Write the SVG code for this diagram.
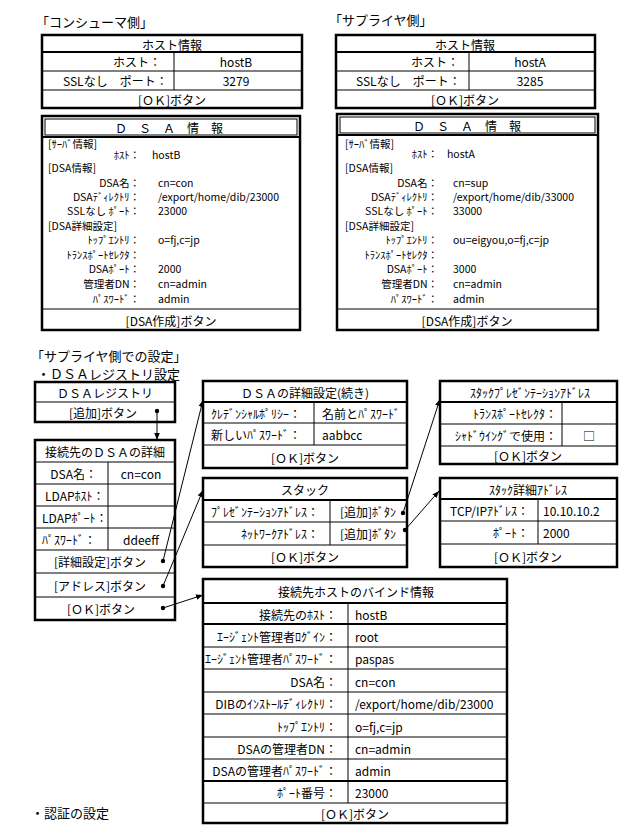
<svg xmlns="http://www.w3.org/2000/svg" width="630" height="840" viewBox="0 0 630 840">
<style>
text{font-family:"Noto Sans CJK JP","Noto Sans",sans-serif;font-size:12px;fill:#000;dominant-baseline:central}
.c{text-anchor:middle}
.e{text-anchor:end}
.h{font-size:13px}
.s{font-size:10.5px}
.box{fill:#fff;stroke:#000;stroke-width:2.5}
.ln{stroke:#000;stroke-width:1;fill:none}
.tk{stroke:#000;stroke-width:2;fill:none}
.ar{stroke:#000;stroke-width:1;fill:none;marker-end:url(#ah)}
.dot{fill:#000}
</style>
<defs>
<marker id="ah" viewBox="0 0 10 10" refX="10" refY="5" markerWidth="7" markerHeight="7" markerUnits="userSpaceOnUse" orient="auto">
<path d="M0,1 L10,5 L0,9 z" fill="#000"/>
</marker>
</defs>
<rect width="630" height="840" fill="#fff"/>

<text x="36" y="21" class="h">「コンシューマ側」</text>
<text x="329" y="19" class="h">「サプライヤ側」</text>
<text x="31" y="355" class="h">「サプライヤ側での設定」</text>
<text x="37" y="373" class="h">・ＤＳＡレジストリ設定</text>
<text x="31" y="812" class="h">・認証の設定</text>

<g id="consumer-host">
<rect class="box" x="42" y="35" width="260" height="73"/>
<line class="tk" x1="42" y1="52" x2="302" y2="52"/>
<line class="ln" x1="42" y1="71" x2="302" y2="71"/>
<line class="ln" x1="42" y1="90" x2="302" y2="90"/>
<line class="ln" x1="174" y1="52" x2="174" y2="90"/>
<text x="172" y="44" class="c">ホスト情報</text>
<text x="161" y="61" class="e">ホスト：</text>
<text x="236" y="61" class="c">hostB</text>
<text x="63" y="80">SSLなし　ポート：</text>
<text x="236" y="80" class="c">3279</text>
<text x="172" y="99" class="c">[ＯＫ]ボタン</text>
</g>

<g id="supplier-host">
<rect class="box" x="336" y="35" width="259" height="73"/>
<line class="tk" x1="336" y1="52" x2="595" y2="52"/>
<line class="ln" x1="336" y1="71" x2="595" y2="71"/>
<line class="ln" x1="336" y1="90" x2="595" y2="90"/>
<line class="ln" x1="469" y1="52" x2="469" y2="90"/>
<text x="465" y="44" class="c">ホスト情報</text>
<text x="459" y="61" class="e">ホスト：</text>
<text x="530" y="61" class="c">hostA</text>
<text x="356" y="80">SSLなし　ポート：</text>
<text x="530" y="80" class="c">3285</text>
<text x="465" y="99" class="c">[ＯＫ]ボタン</text>
</g>

<g id="consumer-dsa">
<rect class="box" x="42" y="116" width="258" height="214"/>
<rect class="ln" x="45" y="119" width="252" height="16"/>
<line class="tk" x1="42" y1="137" x2="300" y2="137"/>
<line class="ln" x1="42" y1="309" x2="300" y2="309"/>
<text x="169" y="127" class="c">Ｄ　Ｓ　Ａ　情　報</text>
<text x="48" y="143" class="s">[ｻｰﾊﾞ情報]</text>
<text x="140" y="154" class="e s">ﾎｽﾄ：</text>
<text x="152" y="154" class="s">hostB</text>
<text x="48" y="167" class="s">[DSA情報]</text>
<text x="140" y="182" class="e s">DSA名：</text>
<text x="158" y="182" class="s">cn=con</text>
<text x="140" y="196" class="e s">DSAﾃﾞｨﾚｸﾄﾘ：</text>
<text x="158" y="196" class="s">/export/home/dib/23000</text>
<text x="140" y="210" class="e s">SSLなし ﾎﾟｰﾄ：</text>
<text x="158" y="210" class="s">23000</text>
<text x="48" y="225" class="s">[DSA詳細設定]</text>
<text x="140" y="239" class="e s">ﾄｯﾌﾟｴﾝﾄﾘ：</text>
<text x="158" y="239" class="s">o=fj,c=jp</text>
<text x="140" y="254" class="e s">ﾄﾗﾝｽﾎﾟｰﾄｾﾚｸﾀ：</text>
<text x="140" y="268" class="e s">DSAﾎﾟｰﾄ：</text>
<text x="158" y="268" class="s">2000</text>
<text x="140" y="283" class="e s">管理者DN：</text>
<text x="158" y="283" class="s">cn=admin</text>
<text x="140" y="298" class="e s">ﾊﾟｽﾜｰﾄﾞ：</text>
<text x="158" y="298" class="s">admin</text>
<text x="171" y="320" class="c">[DSA作成]ボタン</text>
</g>

<g id="supplier-dsa">
<rect class="box" x="337" y="114" width="261" height="216"/>
<rect class="ln" x="340" y="117" width="255" height="16"/>
<line class="tk" x1="337" y1="135" x2="598" y2="135"/>
<line class="ln" x1="337" y1="309" x2="598" y2="309"/>
<text x="467" y="125" class="c">Ｄ　Ｓ　Ａ　情　報</text>
<text x="345" y="143" class="s">[ｻｰﾊﾞ情報]</text>
<text x="438" y="153" class="e s">ﾎｽﾄ：</text>
<text x="447" y="153" class="s">hostA</text>
<text x="345" y="167" class="s">[DSA情報]</text>
<text x="438" y="182" class="e s">DSA名：</text>
<text x="453" y="182" class="s">cn=sup</text>
<text x="438" y="196" class="e s">DSAﾃﾞｨﾚｸﾄﾘ：</text>
<text x="453" y="196" class="s">/export/home/dib/33000</text>
<text x="438" y="210" class="e s">SSLなし ﾎﾟｰﾄ：</text>
<text x="453" y="210" class="s">33000</text>
<text x="345" y="225" class="s">[DSA詳細設定]</text>
<text x="438" y="239" class="e s">ﾄｯﾌﾟｴﾝﾄﾘ：</text>
<text x="453" y="239" class="s">ou=eigyou,o=fj,c=jp</text>
<text x="438" y="254" class="e s">ﾄﾗﾝｽﾎﾟｰﾄｾﾚｸﾀ：</text>
<text x="438" y="268" class="e s">DSAﾎﾟｰﾄ：</text>
<text x="453" y="268" class="s">3000</text>
<text x="438" y="283" class="e s">管理者DN：</text>
<text x="453" y="283" class="s">cn=admin</text>
<text x="438" y="298" class="e s">ﾊﾟｽﾜｰﾄﾞ：</text>
<text x="453" y="298" class="s">admin</text>
<text x="467" y="320" class="c">[DSA作成]ボタン</text>
</g>

<g id="dsa-registry">
<rect class="box" x="35" y="382" width="140" height="40"/>
<line class="ln" x1="35" y1="402" x2="175" y2="402"/>
<text x="105" y="392" class="c">ＤＳＡレジストリ</text>
<text x="103" y="412" class="c">[追加]ボタン</text>
</g>

<g id="dsa-detail">
<rect class="box" x="35" y="440" width="140" height="180"/>
<line class="ln" x1="35" y1="462" x2="175" y2="462"/>
<line class="ln" x1="35" y1="484" x2="175" y2="484"/>
<line class="ln" x1="35" y1="506" x2="175" y2="506"/>
<line class="ln" x1="35" y1="528" x2="175" y2="528"/>
<line class="ln" x1="35" y1="550" x2="175" y2="550"/>
<line class="ln" x1="35" y1="573" x2="175" y2="573"/>
<line class="ln" x1="35" y1="597" x2="175" y2="597"/>
<line class="ln" x1="108" y1="462" x2="108" y2="550"/>
<text x="105" y="451" class="c">接続先のＤＳＡの詳細</text>
<text x="97" y="473" class="e">DSA名：</text>
<text x="141" y="473" class="c">cn=con</text>
<text x="45" y="495">LDAPﾎｽﾄ：</text>
<text x="42" y="517">LDAPﾎﾟｰﾄ：</text>
<text x="42" y="539">ﾊﾟｽﾜｰﾄﾞ：</text>
<text x="141" y="539" class="c">ddeeff</text>
<text x="100" y="561" class="c">[詳細設定]ボタン</text>
<text x="100" y="585" class="c">[アドレス]ボタン</text>
<text x="101" y="608" class="c">[ＯＫ]ボタン</text>
</g>

<g id="dsa-detail-cont">
<rect class="box" x="203" y="381" width="204" height="87"/>
<line class="tk" x1="203" y1="402" x2="407" y2="402"/>
<line class="ln" x1="203" y1="423" x2="407" y2="423"/>
<line class="ln" x1="203" y1="445" x2="407" y2="445"/>
<line class="ln" x1="314" y1="402" x2="314" y2="445"/>
<text x="305" y="392" class="c">ＤＳＡの詳細設定(続き)</text>
<text x="301" y="413" class="e">ｸﾚﾃﾞﾝｼｬﾙﾎﾟﾘｼｰ：</text>
<text x="322" y="413">名前とﾊﾟｽﾜｰﾄﾞ</text>
<text x="301" y="434" class="e">新しいﾊﾟｽﾜｰﾄﾞ：</text>
<text x="322" y="434">aabbcc</text>
<text x="305" y="457" class="c">[ＯＫ]ボタン</text>
</g>

<g id="stack">
<rect class="box" x="203" y="478" width="204" height="89"/>
<line class="tk" x1="203" y1="500" x2="407" y2="500"/>
<line class="ln" x1="203" y1="522" x2="407" y2="522"/>
<line class="ln" x1="203" y1="545" x2="407" y2="545"/>
<line class="ln" x1="330" y1="500" x2="330" y2="545"/>
<text x="305" y="489" class="c">スタック</text>
<text x="319" y="511" class="e">ﾌﾟﾚｾﾞﾝﾃｰｼｮﾝｱﾄﾞﾚｽ：</text>
<text x="340" y="511">[追加]ﾎﾞﾀﾝ</text>
<text x="319" y="533" class="e">ﾈｯﾄﾜｰｸｱﾄﾞﾚｽ：</text>
<text x="340" y="533">[追加]ﾎﾞﾀﾝ</text>
<text x="305" y="556" class="c">[ＯＫ]ボタン</text>
</g>

<g id="stack-presentation">
<rect class="box" x="440" y="381" width="177" height="83"/>
<line class="tk" x1="440" y1="402" x2="617" y2="402"/>
<line class="ln" x1="440" y1="424" x2="617" y2="424"/>
<line class="ln" x1="440" y1="446" x2="617" y2="446"/>
<line class="ln" x1="562" y1="402" x2="562" y2="446"/>
<text x="530" y="392" class="c">ｽﾀｯｸﾌﾟﾚｾﾞﾝﾃｰｼｮﾝｱﾄﾞﾚｽ</text>
<text x="557" y="413" class="e">ﾄﾗﾝｽﾎﾟｰﾄｾﾚｸﾀ：</text>
<text x="557" y="435" class="e">ｼｬﾄﾞｳｲﾝｸﾞで使用：</text>
<text x="589" y="435" class="c">□</text>
<text x="528" y="455" class="c">[ＯＫ]ボタン</text>
</g>

<g id="stack-detail">
<rect class="box" x="440" y="478" width="177" height="89"/>
<line class="tk" x1="440" y1="499" x2="617" y2="499"/>
<line class="ln" x1="440" y1="521" x2="617" y2="521"/>
<line class="ln" x1="440" y1="544" x2="617" y2="544"/>
<line class="ln" x1="538" y1="499" x2="538" y2="544"/>
<text x="528" y="489" class="c">ｽﾀｯｸ詳細ｱﾄﾞﾚｽ</text>
<text x="529" y="510" class="e">TCP/IPｱﾄﾞﾚｽ：</text>
<text x="543" y="510">10.10.10.2</text>
<text x="529" y="532" class="e">ﾎﾟｰﾄ：</text>
<text x="543" y="532">2000</text>
<text x="528" y="556" class="c">[ＯＫ]ボタン</text>
</g>

<g id="bind-info">
<rect class="box" x="203" y="579" width="304" height="244"/>
<line class="tk" x1="203" y1="603" x2="507" y2="603"/>
<line class="tk" x1="203" y1="624" x2="507" y2="624"/>
<line class="ln" x1="203" y1="647" x2="507" y2="647"/>
<line class="ln" x1="203" y1="669" x2="507" y2="669"/>
<line class="ln" x1="203" y1="692" x2="507" y2="692"/>
<line class="ln" x1="203" y1="714" x2="507" y2="714"/>
<line class="ln" x1="203" y1="737" x2="507" y2="737"/>
<line class="ln" x1="203" y1="759" x2="507" y2="759"/>
<line class="tk" x1="203" y1="781" x2="507" y2="781"/>
<line class="ln" x1="203" y1="803" x2="507" y2="803"/>
<line class="ln" x1="348" y1="603" x2="348" y2="803"/>
<text x="356" y="591" class="c">接続先ホストのバインド情報</text>
<text x="337" y="614" class="e">接続先のﾎｽﾄ：</text>
<text x="355" y="614">hostB</text>
<text x="337" y="636" class="e">ｴｰｼﾞｪﾝﾄ管理者ﾛｸﾞｲﾝ：</text>
<text x="355" y="636">root</text>
<text x="337" y="658" class="e">ｴｰｼﾞｪﾝﾄ管理者ﾊﾟｽﾜｰﾄﾞ：</text>
<text x="355" y="658">paspas</text>
<text x="337" y="681" class="e">DSA名：</text>
<text x="355" y="681">cn=con</text>
<text x="337" y="703" class="e">DIBのｲﾝｽﾄｰﾙﾃﾞｨﾚｸﾄﾘ：</text>
<text x="355" y="703">/export/home/dib/23000</text>
<text x="337" y="726" class="e">ﾄｯﾌﾟｴﾝﾄﾘ：</text>
<text x="355" y="726">o=fj,c=jp</text>
<text x="337" y="748" class="e">DSAの管理者DN：</text>
<text x="355" y="748">cn=admin</text>
<text x="337" y="770" class="e">DSAの管理者ﾊﾟｽﾜｰﾄﾞ：</text>
<text x="355" y="770">admin</text>
<text x="337" y="792" class="e">ﾎﾟｰﾄ番号：</text>
<text x="355" y="792">23000</text>
<text x="355" y="813" class="c">[ＯＫ]ボタン</text>
</g>

<g id="connectors">
<line class="ar" x1="157" y1="411" x2="157" y2="440"/>
<line class="ar" x1="163" y1="561" x2="203" y2="400"/>
<line class="ar" x1="163" y1="586" x2="203" y2="490"/>
<line class="ar" x1="163" y1="608" x2="203" y2="595"/>
<line class="ar" x1="403" y1="513" x2="440" y2="399"/>
<line class="ar" x1="405" y1="530" x2="439" y2="491"/>
<circle class="dot" cx="157" cy="411" r="2.2"/>
<circle class="dot" cx="163" cy="561" r="2.2"/>
<circle class="dot" cx="163" cy="586" r="2.2"/>
<circle class="dot" cx="163" cy="608" r="2.2"/>
<circle class="dot" cx="403" cy="513" r="2.2"/>
<circle class="dot" cx="405" cy="530" r="2.2"/>
</g>
</svg>
